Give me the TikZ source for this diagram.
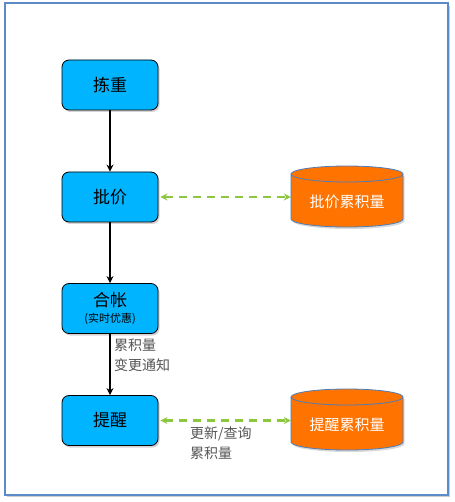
\documentclass[tikz,border=0pt]{standalone}
\usepackage{fontspec}
\setmainfont{Noto Sans CJK SC}
\usetikzlibrary{shadows,arrows.meta}
\definecolor{frameblue}{HTML}{5B8BC9}
\definecolor{boxcyan}{HTML}{00B4FF}
\definecolor{cylorange}{HTML}{FF7300}
\definecolor{cylborder}{HTML}{4A7EBB}
\definecolor{dashgreen}{HTML}{8DC63F}
\definecolor{labelgray}{HTML}{555555}
\tikzset{
  procbox/.style={draw=black, line width=0.8pt, fill=boxcyan, rounded corners=7pt,
    minimum width=96pt, minimum height=50pt, inner sep=0pt, align=center,
    font=\fontsize{17}{19}\selectfont,
    drop shadow={shadow xshift=1.5pt, shadow yshift=-2pt, opacity=0.35, fill=gray}},
  flowarrow/.style={line width=2pt, -{Stealth[length=7pt,width=7pt]}},
  syncarrow/.style={draw=dashgreen, line width=2.2pt, dash pattern=on 8pt off 6pt,
    {Stealth[length=7pt,width=7pt]}-{Stealth[length=7pt,width=7pt]}},
  cyltext/.style={text=white, font=\fontsize{15}{17}\selectfont},
  note/.style={text=labelgray, font=\fontsize{14}{20}\selectfont, align=left, inner sep=0pt, anchor=north west},
  anchorbox/.style={inner sep=0pt, minimum width=112pt, minimum height=61pt}
}
\newcommand{\mycyl}[2]{% center x, top y
  \fill[gray, opacity=0.3] (#1-56+1.5,-#2-8-2) -- (#1-56+1.5,-#2-53-2) arc[start angle=180,end angle=360,x radius=56,y radius=8] -- (#1+56+1.5,-#2-8-2) -- cycle;
  \path[draw=cylborder, line width=0.8pt, fill=cylorange]
    (#1-56,-#2-8) -- (#1-56,-#2-53) arc[start angle=180,end angle=360,x radius=56,y radius=8]
    -- (#1+56,-#2-8) arc[start angle=0,end angle=180,x radius=56,y radius=8] -- cycle;
  \draw[cylborder, line width=0.8pt] (#1-56,-#2-8) arc[start angle=180,end angle=360,x radius=56,y radius=8];
}
\begin{document}
\begin{tikzpicture}[x=1pt,y=1pt]
\useasboundingbox (0,0) rectangle (454,-502);
\fill[white] (0,0) rectangle (454,-502);
\fill[gray!40] (7,-6) rectangle (450,-497);
\draw[frameblue, line width=1.5pt, fill=white] (5,-3) rectangle (448,-495);

\node[procbox] (jz) at (110,-85) {拣重};
\node[procbox] (pj) at (110,-197) {批价};
\node[procbox] (hz) at (110,-308.5) {合帐\\[-3pt]{\fontsize{11}{12}\selectfont (实时优惠)}};
\node[procbox] (tx) at (110,-420.5) {提醒};

\mycyl{347}{166}
\node[anchorbox] (pjl) at (347,-197) {};
\node[cyltext] (pjt) at (347,-202) {批价累积量};
\mycyl{347}{389}
\node[anchorbox] (txl) at (347,-420.5) {};
\node[cyltext] (txt) at (347,-425) {提醒累积量};

\draw[flowarrow] (jz) -- (pj);
\draw[flowarrow] (pj) -- (hz);
\draw[flowarrow] (hz) -- (tx);

\draw[syncarrow] ([xshift=2pt]pj.east) -- (pj.east -| pjl.west);
\draw[syncarrow] ([xshift=2pt]tx.east) -- (tx.east -| txl.west);

\node[note] (n1) at (114,-339) {累积量\\变更通知};
\node[note] (n2) at (190,-426) {更新/查询\\累积量};
\end{tikzpicture}
\end{document}
